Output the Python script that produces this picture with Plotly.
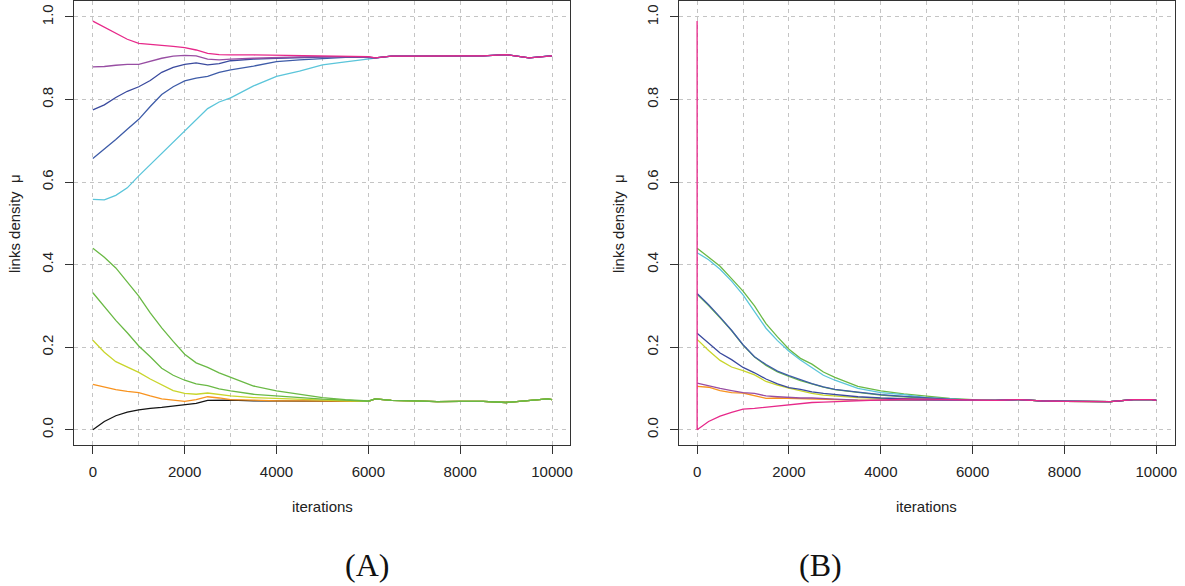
import plotly.graph_objects as go

# ---------------- data ----------------
iterations = [0, 250, 500, 750, 1000, 1250, 1500, 1750, 2000, 2250, 2500, 2750,
              3000, 3500, 4000, 4500, 5000, 5500, 6000,
              6150, 6500, 7000, 7500, 8000, 8500, 9000, 9500, 9900, 10000]

# Panel A – common tails after convergence (6150 .. 10000)
a_tail_high = [0.901, 0.905, 0.905, 0.906, 0.906, 0.906, 0.909, 0.901, 0.905, 0.906]
a_tail_low = [0.075, 0.071, 0.070, 0.068, 0.069, 0.069, 0.066, 0.072, 0.075, 0.073]

# Panel A – heads (0 .. 6000)
a_pink = [0.990, 0.975, 0.960, 0.946, 0.936, 0.933, 0.931, 0.929, 0.926, 0.920, 0.912, 0.909,
          0.908, 0.908, 0.907, 0.906, 0.906, 0.905, 0.904]
a_purple = [0.879, 0.880, 0.883, 0.885, 0.885, 0.892, 0.900, 0.905, 0.907, 0.906, 0.898, 0.896,
            0.898, 0.900, 0.902, 0.903, 0.904, 0.904, 0.903]
a_blue_dark = [0.775, 0.787, 0.805, 0.820, 0.831, 0.846, 0.866, 0.878, 0.885, 0.889, 0.884, 0.887,
               0.894, 0.898, 0.900, 0.902, 0.903, 0.904, 0.903]
a_blue_light = [0.657, 0.679, 0.703, 0.728, 0.752, 0.783, 0.812, 0.831, 0.845, 0.852, 0.856, 0.866,
                0.872, 0.881, 0.892, 0.896, 0.899, 0.902, 0.902]
a_cyan = [0.558, 0.557, 0.568, 0.586, 0.615, 0.642, 0.670, 0.697, 0.723, 0.752, 0.778, 0.794,
          0.804, 0.833, 0.856, 0.869, 0.884, 0.891, 0.898]
a_green_1 = [0.440, 0.418, 0.392, 0.357, 0.324, 0.283, 0.247, 0.214, 0.183, 0.162, 0.151, 0.138,
             0.127, 0.106, 0.094, 0.086, 0.078, 0.073, 0.070]
a_green_2 = [0.332, 0.299, 0.265, 0.235, 0.203, 0.177, 0.149, 0.132, 0.120, 0.111, 0.107, 0.099,
             0.094, 0.086, 0.082, 0.078, 0.074, 0.072, 0.069]
a_yellow = [0.217, 0.188, 0.165, 0.152, 0.139, 0.123, 0.109, 0.095, 0.088, 0.086, 0.089, 0.085,
            0.082, 0.078, 0.076, 0.073, 0.071, 0.070, 0.069]
a_orange = [0.110, 0.104, 0.097, 0.093, 0.090, 0.082, 0.075, 0.072, 0.069, 0.073, 0.080, 0.077,
            0.073, 0.072, 0.070, 0.070, 0.070, 0.069, 0.069]
a_black = [0.000, 0.020, 0.034, 0.043, 0.048, 0.052, 0.054, 0.057, 0.060, 0.064, 0.071, 0.072,
           0.072, 0.070, 0.070, 0.070, 0.069, 0.069, 0.069]

# Panel B – common tail (6150 .. 10000)
b_tail = [0.071, 0.071, 0.073, 0.070, 0.069, 0.069, 0.068, 0.073, 0.073, 0.071]

# Panel B – heads (0 .. 6000)
b_green_1 = [0.440, 0.419, 0.396, 0.366, 0.336, 0.300, 0.257, 0.225, 0.195, 0.173, 0.159, 0.140,
             0.127, 0.105, 0.094, 0.087, 0.081, 0.076, 0.073]
b_cyan = [0.429, 0.412, 0.389, 0.360, 0.327, 0.285, 0.246, 0.216, 0.190, 0.169, 0.151, 0.132,
          0.120, 0.100, 0.090, 0.085, 0.078, 0.075, 0.072]
b_blue_light = [0.330, 0.303, 0.273, 0.241, 0.206, 0.177, 0.158, 0.142, 0.131, 0.121, 0.112, 0.104,
                0.098, 0.091, 0.085, 0.081, 0.077, 0.074, 0.072]
b_green_2 = [0.328, 0.301, 0.271, 0.240, 0.205, 0.176, 0.156, 0.140, 0.129, 0.119, 0.111, 0.103,
             0.097, 0.090, 0.084, 0.080, 0.076, 0.073, 0.071]
b_blue_dark = [0.234, 0.209, 0.186, 0.170, 0.151, 0.138, 0.123, 0.111, 0.102, 0.098, 0.092, 0.088,
               0.085, 0.080, 0.077, 0.075, 0.074, 0.072, 0.071]
b_yellow = [0.219, 0.192, 0.168, 0.152, 0.143, 0.133, 0.117, 0.108, 0.101, 0.095, 0.088, 0.084,
            0.082, 0.078, 0.076, 0.074, 0.073, 0.072, 0.071]
b_purple = [0.113, 0.106, 0.100, 0.095, 0.090, 0.088, 0.082, 0.080, 0.078, 0.077, 0.077, 0.075,
            0.074, 0.072, 0.072, 0.072, 0.072, 0.072, 0.071]
b_orange = [0.105, 0.103, 0.095, 0.090, 0.089, 0.082, 0.076, 0.077, 0.076, 0.075, 0.075, 0.074,
            0.073, 0.072, 0.072, 0.071, 0.071, 0.071, 0.071]
b_pink_start = 0.990
b_pink = [0.000, 0.020, 0.033, 0.042, 0.050, 0.052, 0.055, 0.058, 0.060, 0.063, 0.066, 0.067,
          0.068, 0.070, 0.072, 0.074, 0.074, 0.073, 0.071]

y_ticks = [0.0, 0.2, 0.4, 0.6, 0.8, 1.0]
y_tick_text = ["0.0", "0.2", "0.4", "0.6", "0.8", "1.0"]
x_ticks = [0, 2000, 4000, 6000, 8000, 10000]
x_tick_text = ["0", "2000", "4000", "6000", "8000", "10000"]

# ---------------- styles ----------------
C = {
    "pink": "#E7298A", "purple": "#984EA3", "blue_dark": "#3A4A9E", "blue_light": "#3E5CA8",
    "cyan": "#5BC5DA", "green": "#6AB945", "yellow": "#C9D52B", "orange": "#F8931F",
    "black": "#141414",
}
LW = 1.3
FONT = "Liberation Sans, Arial, sans-serif"
TXT = "#222222"
FS = 15

fig = go.Figure()


def add(xs, ys, color, ax):
    fig.add_trace(go.Scatter(x=xs, y=ys, mode="lines", line=dict(color=color, width=LW),
                             xaxis="x" if ax == 1 else "x2", yaxis="y" if ax == 1 else "y2",
                             showlegend=False, hoverinfo="skip"))


# Panel A (drawn lowest start first, pink last)
for head, tail, col in [
    (a_black, a_tail_low, C["black"]), (a_orange, a_tail_low, C["orange"]),
    (a_yellow, a_tail_low, C["yellow"]), (a_green_2, a_tail_low, C["green"]),
    (a_green_1, a_tail_low, C["green"]), (a_cyan, a_tail_high, C["cyan"]),
    (a_blue_light, a_tail_high, C["blue_light"]), (a_blue_dark, a_tail_high, C["blue_dark"]),
    (a_purple, a_tail_high, C["purple"]), (a_pink, a_tail_high, C["pink"]),
]:
    add(iterations, head + tail, col, 1)

# Panel B
for head, col in [
    (b_orange, C["orange"]), (b_yellow, C["yellow"]), (b_green_1, C["green"]),
    (b_green_2, C["green"]), (b_cyan, C["cyan"]), (b_blue_light, C["blue_light"]),
    (b_blue_dark, C["blue_dark"]), (b_purple, C["purple"]),
]:
    add(iterations, head + b_tail, col, 2)
add([iterations[0]] + iterations, [b_pink_start] + b_pink + b_tail, C["pink"], 2)

W, H = 1185, 586
GRID = dict(showgrid=True, gridcolor="#C4C4C4", gridwidth=1, griddash="4px,4px")


def xaxis(domain, anchor):
    return dict(domain=domain, anchor=anchor, range=[-400, 10400], tickmode="array",
                tickvals=x_ticks, ticktext=x_tick_text, ticks="outside", ticklen=8,
                tickcolor="#333333", tickwidth=1, showline=True, mirror=True,
                linecolor="#333333", linewidth=1, zeroline=False,
                tickfont=dict(family=FONT, size=FS, color=TXT), ticklabelstandoff=5,
                minor=dict(dtick=1000, tick0=0, ticks="", **GRID), **GRID)


def yaxis(anchor):
    return dict(domain=[1 - 445 / H, 1.0], anchor=anchor, range=[-0.0375, 1.0387],
                tickmode="array", tickvals=y_ticks, ticktext=y_tick_text, ticks="outside",
                ticklen=8, tickcolor="#333333", tickwidth=1, showline=True, mirror=True,
                linecolor="#333333", linewidth=1, zeroline=False, tickangle=-90,
                tickfont=dict(family=FONT, size=FS, color=TXT), ticklabelstandoff=6, **GRID)


dA = [74.6 / W, 571.4 / W]
dB = [679.9 / W, 1176.7 / W]

ann = []
for d in (dA, dB):
    ann.append(dict(text="iterations", x=(d[0] + d[1]) / 2, y=1 - 506 / H, xref="paper",
                    yref="paper", showarrow=False, xanchor="center", yanchor="middle",
                    font=dict(family=FONT, size=FS, color=TXT)))
for xp in (14, 619):
    ann.append(dict(text="links density  μ", x=xp / W, y=1 - 222.5 / H, xref="paper",
                    yref="paper", showarrow=False, textangle=-90, xanchor="center",
                    yanchor="middle", font=dict(family=FONT, size=FS, color=TXT)))
for lab, xp in (("(A)", 368), ("(B)", 822)):
    ann.append(dict(text=lab, x=xp / W, y=1 - 565 / H, xref="paper", yref="paper",
                    showarrow=False, xanchor="center", yanchor="middle",
                    font=dict(family="Liberation Serif, Times New Roman, serif", size=32,
                              color="#111111")))

fig.update_layout(
    width=W, height=H, margin=dict(l=0, r=0, t=0, b=0),
    paper_bgcolor="white", plot_bgcolor="white",
    xaxis=xaxis(dA, "y"), yaxis=yaxis("x"),
    xaxis2=xaxis(dB, "y2"), yaxis2=yaxis("x2"),
    annotations=ann, showlegend=False,
)

fig.write_html("out.html", config={"displayModeBar": False},
               post_script="document.body.style.margin='0';")
